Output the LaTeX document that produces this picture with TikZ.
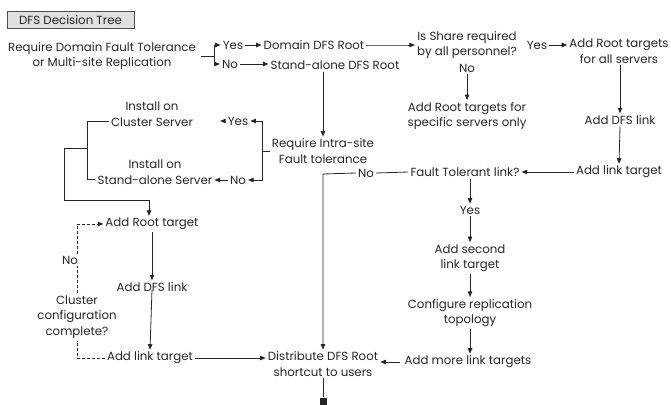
\documentclass[tikz,border=0pt]{standalone}
\usepackage{fontspec}
\setmainfont{Poppins}
\usetikzlibrary{arrows.meta}
\begin{document}
\begin{tikzpicture}[x=1pt,y=-1pt,
  every node/.style={font=\fontsize{11.8}{15.5}\selectfont, inner sep=2pt, align=center, text=black!85},
  conn/.style={line width=0.8pt, draw=black!85},
  arr/.style={conn, -{Triangle[length=5.5pt,width=4.5pt]}},
  dashconn/.style={conn, dashed, dash pattern=on 3pt off 2pt}]
\useasboundingbox (0,0) rectangle (671,404);
% title
\node[draw=black!70, fill=black!12, minimum width=127, minimum height=17, inner sep=0] (title) at (70.5,20) {DFS Decision Tree};
% nodes
\node (req) at (102,56) {Require Domain Fault Tolerance\\or Multi-site Replication};
\node (yes1) at (233,45) {Yes};
\node (no1) at (230,64) {No};
\node (ddr) at (314,45) {Domain DFS Root};
\node (sadr) at (335,65) {Stand-alone DFS Root};
\node (share) at (467,45) {Is Share required\\by all personnel?};
\node (noS) at (467,68) {No};
\node (rtspec) at (467,116) {Add Root targets for\\specific servers only};
\node (yesS) at (537,45) {Yes};
\node (rtall) at (619,51) {Add Root targets\\for all servers};
\node (dfs1) at (620,120) {Add DFS link};
\node (lt1) at (619,172) {Add link target};
\node (ftl) at (465,172) {Fault Tolerant link?};
\node (noF) at (366,173) {No};
\node (yesF) at (470,210) {Yes};
\node (second) at (470,258) {Add second\\link target};
\node (config) at (470,313) {Configure replication\\topology};
\node (more) at (468,362) {Add more link targets};
\node (dist) at (323,364) {Distribute DFS Root\\shortcut to users};
\node (intra) at (323,151) {Require Intra-site\\Fault tolerance};
\node (yesI) at (238,121) {Yes};
\node (noI) at (238,180) {No};
\node (ic) at (152,114) {Install on\\Cluster Server};
\node (isa) at (155,172) {Install on\\Stand-alone Server};
\node (art) at (152,224) {Add Root target};
\node (adl) at (152,287) {Add DFS link};
\node (alt) at (150,358) {Add link target};
\node (noC) at (70,260) {No};
\node (cc) at (77,317) {Cluster\\configuration\\complete?};
\node[fill=black!85, minimum size=7, inner sep=0] (sq) at (323,401) {};
% coordinates
\coordinate (b1) at (214,56);
\coordinate (b2) at (262,151);
\coordinate (L1) at (87,121);
\coordinate (L2) at (87,179);
\coordinate (L3) at (87,148);
\coordinate (L4) at (64,148);
\coordinate (L5) at (64,200);
\coordinate (L6) at (149,200);
\coordinate (nf) at (323,174);
% connectors top
\draw[conn] ([xshift=3]req.east) -- (b1);
\draw[arr] (b1) |- (yes1.west);
\draw[arr] (b1) |- (no1.west);
\draw[arr] (yes1.east) -- (ddr.west);
\draw[arr] (no1.east) -- (no1.east -| sadr.west);
\draw[arr] (ddr.east) -- ++(40,0) coordinate (c0) -- (c0 -| share.west);
\draw[arr] (noS.south) -- (rtspec.north);
\draw[arr] (yesS.east) -- (yesS.east -| rtall.west);
\draw[arr] (rtall.south -| dfs1.north) -- (dfs1.north);
\draw[arr] (dfs1.south) -- (lt1.north);
\draw[arr] (lt1.west) -- (ftl.east);
\draw[conn] (ftl.west) -- (noF.east);
\draw[arr] (noF.west) -- (nf) -- (dist.north -| nf);
\draw[arr] (ftl.south -| yesF.north) -- (yesF.north);
\draw[arr] (yesF.south) -- (second.north);
\draw[arr] (second.south) -- (config.north);
\draw[arr] (config.south) -- (config.south |- more.north);
\draw[arr, shorten <=2pt] (more.west) -- (more.west -| dist.east);
% left part
\draw[arr] (sadr.south -| intra.north) -- (intra.north);
\draw[conn] (intra.west) -- (b2);
\draw[arr] (b2) |- (yesI.east);
\draw[arr] (b2) |- (noI.east);
\draw[arr, shorten >=25pt] (yesI.west) -- (yesI.west -| ic.east);
\draw[arr] (noI.west) -- (noI.west -| isa.east);
\draw[conn] (ic.west |- L1) -- (L1) -- (L2) -- (isa.west |- L2);
\draw[arr] (L3) -- (L4) -- (L5) -- (L6) -- (art.north -| L6);
\draw[arr] (art.south) -- (adl.north);
\draw[arr] ([yshift=4]adl.south) -- (alt.north);
\draw[arr] (alt.east) -- (alt.east -| dist.west);
\draw[dashconn] (alt.west) -| (cc.south);
\draw[dashconn] (cc.north) -- (cc.north |- noC.south);
\draw[dashconn, -{Triangle[length=5.5pt,width=4.5pt]}] (noC.north -| cc.north) |- (art.west);
\draw[conn] (dist.south) -- (sq.north);
\end{tikzpicture}
\end{document}
